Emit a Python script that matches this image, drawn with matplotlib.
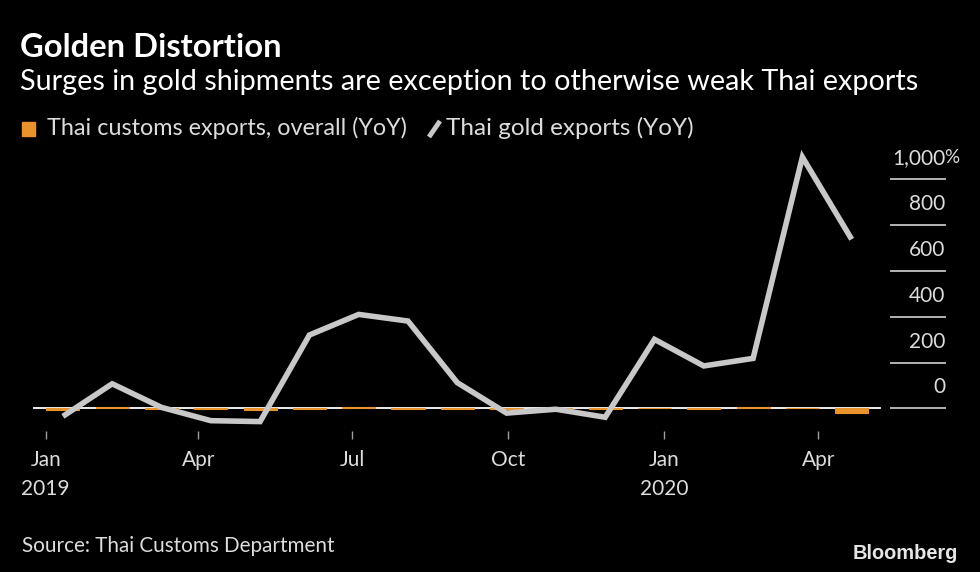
import matplotlib
matplotlib.use("Agg")
import matplotlib.pyplot as plt
import numpy as np

# ---------------- data ----------------
months = ["Jan 2019", "Feb 2019", "Mar 2019", "Apr 2019", "May 2019", "Jun 2019",
          "Jul 2019", "Aug 2019", "Sep 2019", "Oct 2019", "Nov 2019", "Dec 2019",
          "Jan 2020", "Feb 2020", "Mar 2020", "Apr 2020", "May 2020"]
overall_exports = [-5.7, 5.9, -4.9, -2.6, -5.8, -2.2, 4.3, -4.0, -1.4, -4.5, -7.4,
                   -1.3, 3.4, -4.5, 4.2, 2.1, -22.5]
gold_exports = [-35, 107, 4, -54, -58, 320, 410, 381, 112, -21, -4, -39,
                301, 185, 218, 1097, 738]
tick_labels = ["Jan\n2019", "Apr", "Jul", "Oct", "Jan\n2020", "Apr"]
ytick_values = [0, 200, 400, 600, 800, 1000]
ytick_labels = ["0", "200", "400", "600", "800", "1,000"]

title = "Golden Distortion"
subtitle = "Surges in gold shipments are exception to otherwise weak Thai exports"
legend1 = "Thai customs exports, overall (YoY)"
legend2 = "Thai gold exports (YoY)"
source = "Source: Thai Customs Department"

# ---------------- style ----------------
W, H = 980, 572
BG = "#000000"
ORANGE = "#e8932c"
LINE = "#c8c8c8"
GRID = "#b4b4b4"
TXT = "#dcdcdc"
FONT = "Lato"

plt.rcParams["font.family"] = [FONT, "DejaVu Sans"]
fig = plt.figure(figsize=(W / 100, H / 100), dpi=100, facecolor=BG)
renderer = fig.canvas.get_renderer()


def px_ax(left, top, right, bottom):
    return fig.add_axes([left / W, 1 - bottom / H, (right - left) / W, (bottom - top) / H])


ax = px_ax(33, 140, 946, 431)
ax.set_facecolor(BG)
for s in ax.spines.values():
    s.set_visible(False)

x = np.arange(len(months))
ax.set_xlim(-0.6065, 17.913)
ax.set_ylim(-99.1, 1171.6)

# zero line (white) across the plot area
zero_frac = (880 - 33) / (946 - 33)
ax.axhline(0, xmin=0, xmax=zero_frac, color="#ffffff", lw=1.3, zorder=1)

# grid segments at right with labels above them
gl = (891 - 33) / (946 - 33)
for v, lab in zip(ytick_values, ytick_labels):
    ax.axhline(v, xmin=gl, xmax=1.0, color=GRID, lw=1.4, zorder=1)
    ax.annotate(lab, xy=(1.0, v), xycoords=("axes fraction", "data"),
                xytext=(-0.5, 21 * 0.72), textcoords="offset points",
                ha="right", va="center", fontsize=15, color=TXT)
    if v == 1000:
        ax.annotate("%", xy=(1.0, v), xycoords=("axes fraction", "data"),
                    xytext=(-1, 22 * 0.72), textcoords="offset points",
                    ha="left", va="center", fontsize=13.5, color=TXT)

# bars
ax.bar(x, overall_exports, width=0.67, color=ORANGE, edgecolor=ORANGE,
       linewidth=0.8, zorder=2)
# line
ax.plot(x, gold_exports, color=LINE, lw=4.0, solid_joinstyle="miter",
        solid_capstyle="butt", zorder=3)

# x ticks
tick_pos = [-0.349, 2.747, 5.87, 9.035, 12.2, 15.32]
ax.set_xticks(tick_pos)
ax.set_xticklabels(tick_labels, fontsize=15, color=TXT, linespacing=1.55)
ax.tick_params(axis="x", direction="out", length=5.8, width=1.0, color="#a0a0a0",
               pad=8)
ax.set_yticks([])


# ---------------- texts ----------------
def fit_text(x0, baseline, s, width_px, **kw):
    t = fig.text(x0 / W, 1 - baseline / H, s, fontsize=10, va="baseline", ha="left", **kw)
    bb = t.get_window_extent(renderer)
    t.set_fontsize(10 * width_px / bb.width)
    return t


fit_text(20, 57, title, 263, color="#ffffff", fontweight="bold")
fit_text(20, 90, subtitle, 897, color="#ffffff")
fit_text(47, 135, legend1, 360, color=TXT)
fit_text(446, 135, legend2, 247, color=TXT)
fit_text(21.7, 552, source, 313, color=TXT)
fit_text(853, 559, "Bloomberg", 106, color="#e6e6e6", fontweight="bold",
         family=["Liberation Sans", "DejaVu Sans"])

# legend icons
fig.patches.append(matplotlib.patches.Rectangle((22 / W, 1 - 136 / H), 13 / W, 14 / H,
                                                transform=fig.transFigure,
                                                color=ORANGE))
fig.lines.append(matplotlib.lines.Line2D([429 / W, 440 / W], [1 - 137 / H, 1 - 121 / H],
                                         transform=fig.transFigure, color=LINE, lw=3.5,
                                         solid_capstyle="butt"))

fig.savefig("out.png", dpi=100, facecolor=BG)
